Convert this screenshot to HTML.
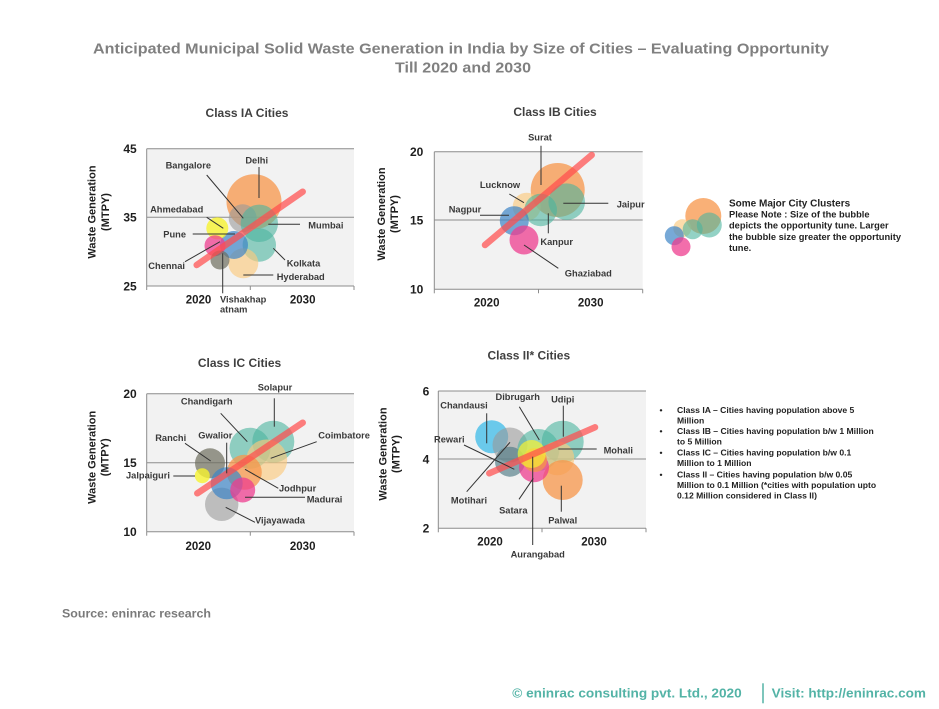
<!DOCTYPE html>
<html><head><meta charset="utf-8"><style>
html,body{margin:0;padding:0;background:#fff;}
svg{display:block;font-family:"Liberation Sans",Arial,sans-serif;}
.t{font-weight:bold;fill:#3a3a3a;font-size:9.3px;}
.tk{font-weight:bold;fill:#1e1e1e;font-size:12px;}
.xl{font-weight:bold;fill:#1e1e1e;font-size:11.5px;text-anchor:middle;}
.pt{font-weight:bold;fill:#404040;font-size:12px;text-anchor:middle;}
.yt{font-weight:bold;fill:#1e1e1e;font-size:11px;text-anchor:middle;}
.ln{stroke:#333;stroke-width:1;fill:none;}
.grid{stroke:#8c8c8c;stroke-width:1;}
.tr{stroke:#ff4d4d;stroke-opacity:.72;stroke-width:6.5;stroke-linecap:round;}
.o{fill:#f7964a;fill-opacity:.75}
.tl{fill:#4bb49e;fill-opacity:.6}
.lo{fill:#fbc97e;fill-opacity:.65}
.g{fill:#9a9a9a;fill-opacity:.6}
.ol{fill:#6e6e5e;fill-opacity:.7}
.b{fill:#3d85c6;fill-opacity:.7}
.p{fill:#ee3e8f;fill-opacity:.75}
.y{fill:#f6f230;fill-opacity:.8}
.lb{fill:#3cbbe8;fill-opacity:.75}
.dt{fill:#4f7a84;fill-opacity:.65}
.d{font-weight:bold;fill:#222;font-size:8.6px;}
</style></head><body>
<svg width="939" height="709" viewBox="0 0 939 709" xmlns="http://www.w3.org/2000/svg">
<rect width="939" height="709" fill="#fff"/>
<!-- main title -->
<text x="461" y="53.5" font-size="15" font-weight="bold" fill="#808080" text-anchor="middle" textLength="736" lengthAdjust="spacingAndGlyphs">Anticipated Municipal Solid Waste Generation in India by Size of  Cities – Evaluating Opportunity</text>
<text x="463" y="72.5" font-size="15" font-weight="bold" fill="#808080" text-anchor="middle" textLength="136" lengthAdjust="spacingAndGlyphs">Till 2020 and 2030</text>

<!-- ============ PANEL IA ============ -->
<text class="pt" x="247" y="117">Class IA Cities</text>
<rect x="146.7" y="148.7" width="207.3" height="137.3" fill="#f2f2f2"/>
<line class="grid" x1="146.7" y1="148.7" x2="354" y2="148.7"/>
<line class="grid" x1="146.7" y1="217.3" x2="354" y2="217.3"/>
<line class="grid" x1="146.7" y1="148.7" x2="146.7" y2="286"/>
<line class="grid" x1="146.7" y1="286" x2="354" y2="286"/>
<line class="grid" x1="146.7" y1="286" x2="146.7" y2="290"/>
<line class="grid" x1="250.3" y1="286" x2="250.3" y2="290"/>
<line class="grid" x1="354" y1="286" x2="354" y2="290"/>
<text class="tk" x="136.7" y="153" text-anchor="end">45</text>
<text class="tk" x="136.7" y="221.6" text-anchor="end">35</text>
<text class="tk" x="136.7" y="290.3" text-anchor="end">25</text>
<text class="xl" x="198.5" y="303.3">2020</text>
<text class="xl" x="302.7" y="303.3">2030</text>
<text class="yt" transform="translate(95.3,212) rotate(-90)">Waste Generation</text>
<text class="yt" transform="translate(109,212) rotate(-90)">(MTPY)</text>
<circle class="o" cx="254" cy="201.7" r="27.5"/>
<circle class="g" cx="242.7" cy="218.3" r="14"/>
<circle class="tl" cx="259.3" cy="223.3" r="18.7"/>
<circle class="tl" cx="259.3" cy="245" r="16.7"/>
<circle class="lo" cx="243.3" cy="263.3" r="15"/>
<circle class="b" cx="234" cy="245" r="14"/>
<circle class="y" cx="217.3" cy="228.3" r="11"/>
<circle class="p" cx="215" cy="245.7" r="10.5"/>
<circle class="ol" cx="220" cy="260" r="9.5"/>
<line class="tr" x1="196.7" y1="265" x2="302.7" y2="191.7"/>
<line class="ln" x1="259" y1="167" x2="259" y2="198"/>
<line class="ln" x1="206.7" y1="175" x2="243.3" y2="218.3"/>
<line class="ln" x1="206.7" y1="217.3" x2="223.3" y2="228.3"/>
<line class="ln" x1="268.3" y1="224.3" x2="300" y2="224.3"/>
<line class="ln" x1="192.7" y1="234" x2="235" y2="234"/>
<line class="ln" x1="273.3" y1="248.3" x2="285" y2="260"/>
<line class="ln" x1="185" y1="261.7" x2="220" y2="241.7"/>
<line class="ln" x1="243.3" y1="275" x2="273.3" y2="275"/>
<line class="ln" x1="222.7" y1="253.3" x2="222.7" y2="293.3"/>
<text class="t" x="256.7" y="163.3" text-anchor="middle">Delhi</text>
<text class="t" x="188.3" y="168.3" text-anchor="middle">Bangalore</text>
<text class="t" x="176.7" y="212.6" text-anchor="middle">Ahmedabad</text>
<text class="t" x="308.3" y="228.3">Mumbai</text>
<text class="t" x="163.3" y="237.3">Pune</text>
<text class="t" x="286.7" y="266.6">Kolkata</text>
<text class="t" x="148.3" y="269">Chennai</text>
<text class="t" x="276.7" y="280">Hyderabad</text>
<text class="t" x="220" y="302.6">Vishakhap</text>
<text class="t" x="220" y="312.6">atnam</text>

<!-- ============ PANEL IB ============ -->
<text class="pt" x="555" y="116">Class IB Cities</text>
<rect x="434.3" y="151.7" width="208.4" height="137.6" fill="#f2f2f2"/>
<line class="grid" x1="434.3" y1="151.7" x2="642.7" y2="151.7"/>
<line class="grid" x1="434.3" y1="220" x2="642.7" y2="220"/>
<line class="grid" x1="434.3" y1="151.7" x2="434.3" y2="289.3"/>
<line class="grid" x1="434.3" y1="289.3" x2="642.7" y2="289.3"/>
<line class="grid" x1="434.3" y1="289.3" x2="434.3" y2="293.3"/>
<line class="grid" x1="538.5" y1="289.3" x2="538.5" y2="293.3"/>
<line class="grid" x1="642.7" y1="289.3" x2="642.7" y2="293.3"/>
<text class="tk" x="423.3" y="156" text-anchor="end">20</text>
<text class="tk" x="423.3" y="224.3" text-anchor="end">15</text>
<text class="tk" x="423.3" y="293.6" text-anchor="end">10</text>
<text class="xl" x="486.7" y="306.3">2020</text>
<text class="xl" x="590.7" y="306.3">2030</text>
<text class="yt" transform="translate(384.8,214) rotate(-90)">Waste Generation</text>
<text class="yt" transform="translate(398,214) rotate(-90)">(MTPY)</text>
<circle class="o" cx="557.7" cy="190" r="27"/>
<circle class="tl" cx="566.7" cy="201.7" r="18.3"/>
<circle class="lo" cx="526.7" cy="206.7" r="14"/>
<circle class="tl" cx="540.7" cy="210" r="16.3"/>
<circle class="b" cx="514.3" cy="220.7" r="14.5"/>
<circle class="p" cx="524" cy="240" r="14.5"/>
<line class="tr" x1="485" y1="245" x2="591.7" y2="155"/>
<line class="ln" x1="541" y1="145.7" x2="541" y2="185"/>
<line class="ln" x1="509.3" y1="194" x2="524" y2="202.7"/>
<line class="ln" x1="480" y1="215.3" x2="509" y2="215.3"/>
<line class="ln" x1="563.3" y1="203.3" x2="608.3" y2="203.3"/>
<line class="ln" x1="548.3" y1="213.3" x2="548.3" y2="233.3"/>
<line class="ln" x1="524" y1="245" x2="558.3" y2="268.3"/>
<text class="t" x="540" y="140.6" text-anchor="middle">Surat</text>
<text class="t" x="500" y="188" text-anchor="middle">Lucknow</text>
<text class="t" x="465" y="212.6" text-anchor="middle">Nagpur</text>
<text class="t" x="616.7" y="207.3">Jaipur</text>
<text class="t" x="556.7" y="245" text-anchor="middle">Kanpur</text>
<text class="t" x="588.3" y="276.6" text-anchor="middle">Ghaziabad</text>

<!-- legend bubbles -->
<circle class="o" cx="703.3" cy="216" r="18"/>
<circle class="tl" cx="709.3" cy="225" r="12.5"/>
<circle class="lo" cx="682.3" cy="228.3" r="9"/>
<circle class="tl" cx="692.7" cy="229.3" r="10"/>
<circle class="b" cx="674.3" cy="235.7" r="9.5"/>
<circle class="p" cx="681" cy="246.7" r="9.5"/>
<text x="729" y="206.3" font-size="10" font-weight="bold" fill="#222">Some Major City Clusters</text>
<text class="d" x="729" y="217.3" font-size="9.3px" style="font-size:9.3px">Please Note : Size of the bubble</text>
<text class="d" x="729" y="228.3" style="font-size:9.3px">depicts the opportunity tune. Larger</text>
<text class="d" x="729" y="240" style="font-size:9.3px">the bubble size greater the opportunity</text>
<text class="d" x="729" y="251" style="font-size:9.3px">tune.</text>

<!-- ============ PANEL IC ============ -->
<text class="pt" x="239.5" y="367">Class IC Cities</text>
<rect x="146.7" y="393.7" width="207.3" height="138" fill="#f2f2f2"/>
<line class="grid" x1="146.7" y1="393.7" x2="354" y2="393.7"/>
<line class="grid" x1="146.7" y1="462.7" x2="354" y2="462.7"/>
<line class="grid" x1="146.7" y1="393.7" x2="146.7" y2="531.7"/>
<line class="grid" x1="146.7" y1="531.7" x2="354" y2="531.7"/>
<line class="grid" x1="146.7" y1="531.7" x2="146.7" y2="535.7"/>
<line class="grid" x1="250.3" y1="531.7" x2="250.3" y2="535.7"/>
<line class="grid" x1="354" y1="531.7" x2="354" y2="535.7"/>
<text class="tk" x="136.7" y="398" text-anchor="end">20</text>
<text class="tk" x="136.7" y="467" text-anchor="end">15</text>
<text class="tk" x="136.7" y="536" text-anchor="end">10</text>
<text class="xl" x="198.3" y="550">2020</text>
<text class="xl" x="302.7" y="550">2030</text>
<text class="yt" transform="translate(95.5,457.3) rotate(-90)">Waste Generation</text>
<text class="yt" transform="translate(108.7,457.3) rotate(-90)">(MTPY)</text>
<circle class="tl" cx="273.3" cy="441.7" r="21"/>
<circle class="tl" cx="250" cy="448.3" r="20.5"/>
<circle class="lo" cx="266.7" cy="460" r="20.5"/>
<circle class="ol" cx="210" cy="463.3" r="15"/>
<circle class="o" cx="244.3" cy="472.3" r="17.5"/>
<circle class="g" cx="221.7" cy="504.3" r="16.7"/>
<circle class="b" cx="226.7" cy="483.3" r="16"/>
<circle class="p" cx="242.7" cy="490" r="12.5"/>
<circle class="y" cx="202.3" cy="475.7" r="7.5"/>
<line class="tr" x1="197.3" y1="493.3" x2="302.7" y2="422.7"/>
<line class="ln" x1="274.3" y1="398.3" x2="274.3" y2="426.7"/>
<line class="ln" x1="220.7" y1="413.3" x2="247.3" y2="441.7"/>
<line class="ln" x1="185" y1="443.3" x2="210.7" y2="461"/>
<line class="ln" x1="226.7" y1="442.7" x2="226.7" y2="473.3"/>
<line class="ln" x1="270.7" y1="458.3" x2="316.7" y2="441.7"/>
<line class="ln" x1="173.3" y1="476" x2="195" y2="476"/>
<line class="ln" x1="245" y1="469.3" x2="278.3" y2="488.3"/>
<line class="ln" x1="245" y1="497.3" x2="305" y2="497.3"/>
<line class="ln" x1="225.7" y1="507.3" x2="255" y2="522.3"/>
<text class="t" x="275" y="390.6" text-anchor="middle">Solapur</text>
<text class="t" x="206.7" y="404.3" text-anchor="middle">Chandigarh</text>
<text class="t" x="170.7" y="441" text-anchor="middle">Ranchi</text>
<text class="t" x="215.3" y="438.3" text-anchor="middle">Gwalior</text>
<text class="t" x="318.3" y="438.3">Coimbatore</text>
<text class="t" x="126" y="478.3">Jalpaiguri</text>
<text class="t" x="279" y="491.6">Jodhpur</text>
<text class="t" x="306.7" y="502.6">Madurai</text>
<text class="t" x="255" y="523.3">Vijayawada</text>

<!-- ============ PANEL II ============ -->
<text class="pt" x="528.8" y="359.3">Class II* Cities</text>
<rect x="438.3" y="391" width="207.7" height="137.3" fill="#f2f2f2"/>
<line class="grid" x1="438.3" y1="391" x2="646" y2="391"/>
<line class="grid" x1="438.3" y1="459" x2="646" y2="459"/>
<line class="grid" x1="438.3" y1="391" x2="438.3" y2="528.3"/>
<line class="grid" x1="438.3" y1="528.3" x2="646" y2="528.3"/>
<line class="grid" x1="438.3" y1="528.3" x2="438.3" y2="532.3"/>
<line class="grid" x1="542" y1="528.3" x2="542" y2="532.3"/>
<line class="grid" x1="646" y1="528.3" x2="646" y2="532.3"/>
<text class="tk" x="429.3" y="395.3" text-anchor="end">6</text>
<text class="tk" x="429.3" y="463.3" text-anchor="end">4</text>
<text class="tk" x="429.3" y="532.6" text-anchor="end">2</text>
<text class="xl" x="490" y="545.7">2020</text>
<text class="xl" x="594" y="545.7">2030</text>
<text class="yt" transform="translate(386.5,454) rotate(-90)">Waste Generation</text>
<text class="yt" transform="translate(399.5,454) rotate(-90)">(MTPY)</text>
<circle class="lb" cx="491.7" cy="436.7" r="16.5"/>
<circle class="g" cx="510" cy="445" r="17.5"/>
<circle class="dt" cx="510" cy="461.7" r="15"/>
<circle class="tl" cx="562.7" cy="441.7" r="21"/>
<circle class="tl" cx="538.3" cy="450" r="21"/>
<circle class="lo" cx="557.3" cy="458.3" r="17"/>
<circle class="o" cx="562.7" cy="480" r="20"/>
<circle class="p" cx="534" cy="467.3" r="15"/>
<circle class="o" cx="535" cy="460" r="12"/>
<circle class="y" cx="531.7" cy="454" r="14" style="fill-opacity:.7"/>
<line class="tr" x1="489.3" y1="473.3" x2="595" y2="427.3"/>
<line class="ln" x1="486.7" y1="413.3" x2="486.7" y2="443.3"/>
<line class="ln" x1="519.3" y1="406.7" x2="539.3" y2="440"/>
<line class="ln" x1="563.3" y1="405.7" x2="563.3" y2="436.7"/>
<line class="ln" x1="464" y1="445" x2="514.3" y2="469.3"/>
<line class="ln" x1="558.3" y1="449" x2="596.7" y2="449"/>
<line class="ln" x1="466.7" y1="491.7" x2="510" y2="442.3"/>
<line class="ln" x1="519" y1="499.3" x2="533.3" y2="478.3"/>
<line class="ln" x1="561.3" y1="485.7" x2="561.3" y2="511.7"/>
<line class="ln" x1="532.7" y1="456.7" x2="532.7" y2="545"/>
<text class="t" x="464" y="408.3" text-anchor="middle">Chandausi</text>
<text class="t" x="517.7" y="400" text-anchor="middle">Dibrugarh</text>
<text class="t" x="562.7" y="402.3" text-anchor="middle">Udipi</text>
<text class="t" x="449.3" y="442.3" text-anchor="middle">Rewari</text>
<text class="t" x="618.3" y="453.3" text-anchor="middle">Mohali</text>
<text class="t" x="469" y="503.3" text-anchor="middle">Motihari</text>
<text class="t" x="513.3" y="513.3" text-anchor="middle">Satara</text>
<text class="t" x="562.7" y="523.3" text-anchor="middle">Palwal</text>
<text class="t" x="537.7" y="557.3" text-anchor="middle">Aurangabad</text>

<!-- class descriptions -->
<g class="d">
<text x="659.5" y="413">•</text>
<text x="677" y="413">Class IA – Cities having population above 5</text>
<text x="677" y="423.5">Million</text>
<text x="659.5" y="434">•</text>
<text x="677" y="434">Class IB – Cities having population b/w 1 Million</text>
<text x="677" y="444.5">to 5 Million</text>
<text x="659.5" y="455.5">•</text>
<text x="677" y="455.5">Class IC – Cities having population b/w 0.1</text>
<text x="677" y="466">Million to 1 Million</text>
<text x="659.5" y="477.5">•</text>
<text x="677" y="477.5">Class II – Cities having population b/w 0.05</text>
<text x="677" y="488">Million to 0.1 Million (*cities with population upto</text>
<text x="677" y="498.5">0.12 Million considered in Class II)</text>
</g>

<!-- source -->
<text x="62" y="617.5" font-size="12" font-weight="bold" fill="#7a7a7a" textLength="149" lengthAdjust="spacingAndGlyphs">Source: eninrac research</text>

<!-- footer -->
<text x="512.3" y="697.5" font-size="12.5" font-weight="bold" fill="#53b3a6" textLength="229.4" lengthAdjust="spacingAndGlyphs">© eninrac consulting pvt. Ltd., 2020</text>
<line x1="763" y1="683.3" x2="763" y2="703.3" stroke="#53b3a6" stroke-width="1.5"/>
<text x="771.7" y="697.5" font-size="12.5" font-weight="bold" fill="#53b3a6" textLength="154.3" lengthAdjust="spacingAndGlyphs">Visit: http://eninrac.com</text>
</svg>
</body></html>
